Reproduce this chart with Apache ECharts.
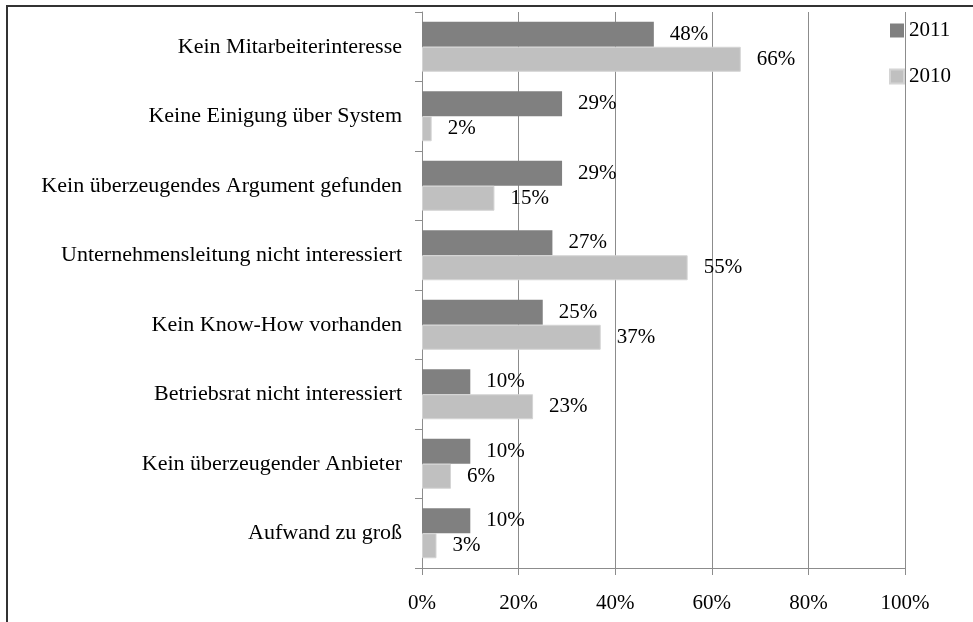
<!DOCTYPE html>
<html>
<head>
<meta charset="utf-8">
<script src="https://cdn.jsdelivr.net/npm/echarts@6/dist/echarts.min.js"></script>
<style>
  html, body { margin: 0; padding: 0; background: #fff; }
  #chart { width: 973px; height: 622px; }
</style>
</head>
<body>
<div id="chart"></div>
<script>
// Kategorien von oben nach unten
const categories = [
  'Kein Mitarbeiterinteresse',
  'Keine Einigung über System',
  'Kein überzeugendes Argument gefunden',
  'Unternehmensleitung nicht interessiert',
  'Kein Know-How vorhanden',
  'Betriebsrat nicht interessiert',
  'Kein überzeugender Anbieter',
  'Aufwand zu groß'
];
const values2011 = [48, 29, 29, 27, 25, 10, 10, 10];
const values2010 = [66, 2, 15, 55, 37, 23, 6, 3];
const xTicks = [0, 20, 40, 60, 80, 100];

const font = '"Liberation Serif", "DejaVu Serif", serif';
const gridColor = '#8c8c8c';

let myChart = echarts.init(document.getElementById('chart'));

let option = {
  backgroundColor: '#fff',
  animation: false,
  textStyle: { fontFamily: font },
  grid: { left: 422, right: 68, top: 12, bottom: 54, containLabel: false },
  legend: {
    orient: 'vertical',
    right: 17,
    top: 15,
    itemWidth: 14,
    itemHeight: 14,
    itemGap: 25,
    icon: 'rect',
    textStyle: { fontFamily: font, fontSize: 21, color: '#000' },
    data: ['2011', '2010']
  },
  xAxis: {
    type: 'value',
    min: xTicks[0],
    max: xTicks[xTicks.length - 1],
    interval: 20,
    axisLine: { show: true, lineStyle: { color: gridColor } },
    axisTick: { show: true, length: 7, lineStyle: { color: gridColor } },
    splitLine: { show: true, lineStyle: { color: gridColor, width: 1 } },
    axisLabel: {
      formatter: '{value}%',
      color: '#000',
      fontFamily: font,
      fontSize: 21,
      margin: 25
    }
  },
  yAxis: {
    type: 'category',
    inverse: true,
    data: categories,
    axisLine: { show: true, lineStyle: { color: gridColor } },
    axisTick: { show: true, length: 7, lineStyle: { color: gridColor } },
    axisLabel: {
      color: '#000',
      fontFamily: font,
      fontSize: 22,
      margin: 20
    }
  },
  series: [
    {
      name: '2011',
      type: 'bar',
      data: values2011,
      barWidth: 25,
      barGap: '0%',
      itemStyle: { color: '#808080' },
      label: {
        show: true,
        position: 'right',
        distance: 16,
        formatter: '{c}%',
        color: '#000',
        fontFamily: font,
        fontSize: 21
      }
    },
    {
      name: '2010',
      type: 'bar',
      data: values2010,
      barWidth: 25,
      barGap: '0%',
      itemStyle: { color: '#c0c0c0', borderColor: '#d4d4d4', borderWidth: 1 },
      label: {
        show: true,
        position: 'right',
        distance: 16,
        formatter: '{c}%',
        color: '#000',
        fontFamily: font,
        fontSize: 21
      }
    }
  ],
  graphic: [
    // Rahmen oben und links
    { type: 'line', shape: { x1: 6, y1: 6, x2: 973, y2: 6 }, style: { stroke: '#333', lineWidth: 2 } },
    { type: 'line', shape: { x1: 7, y1: 6, x2: 7, y2: 622 }, style: { stroke: '#333', lineWidth: 2 } }
  ]
};

myChart.setOption(option);
</script>
</body>
</html>
